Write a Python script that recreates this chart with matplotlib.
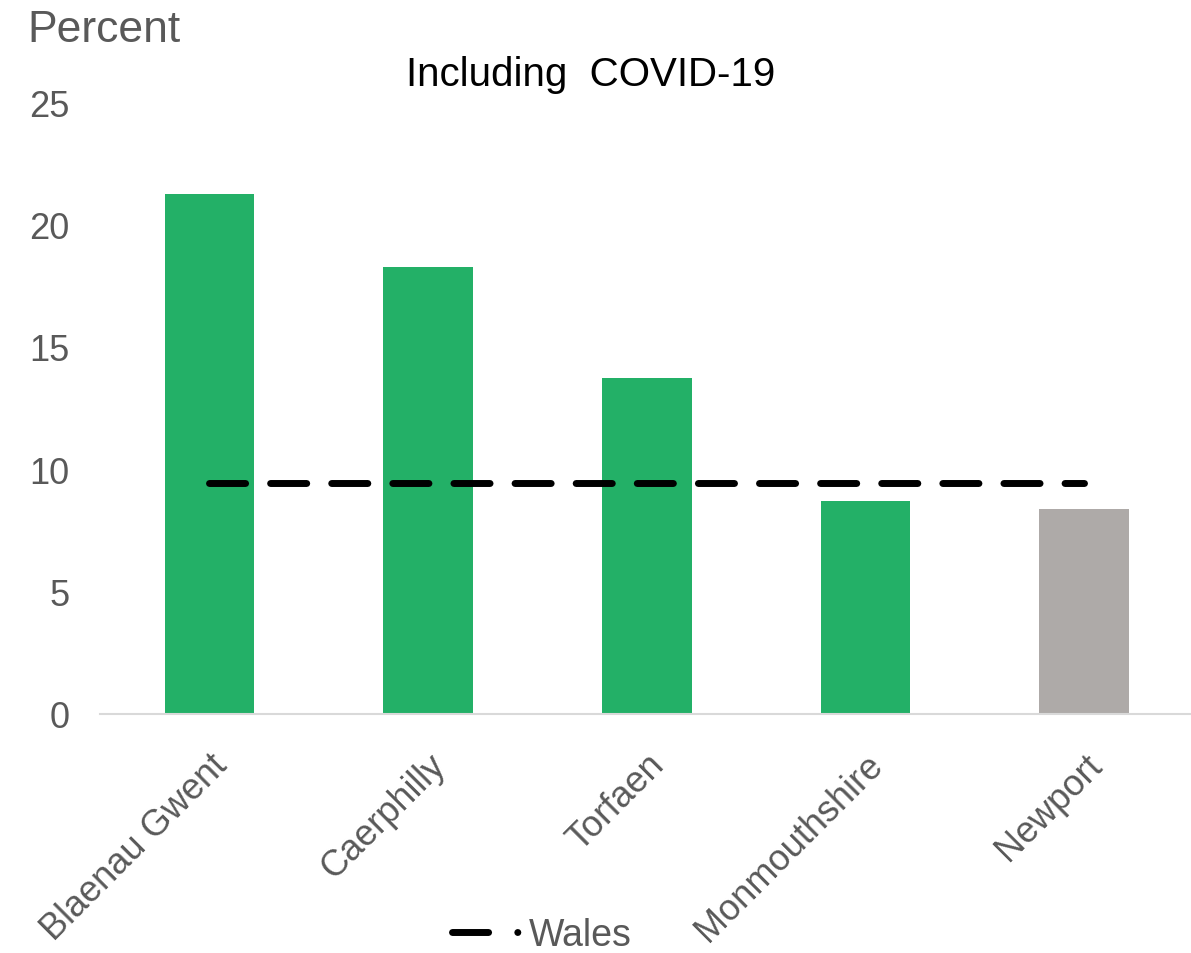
import matplotlib
matplotlib.use("Agg")
import matplotlib.pyplot as plt
from matplotlib.lines import Line2D

categories = ["Blaenau Gwent", "Caerphilly", "Torfaen", "Monmouthshire", "Newport"]
values = [21.25, 18.26, 13.72, 8.70, 8.37]
bar_colors = ["#23b067", "#23b067", "#23b067", "#23b067", "#aeaaa8"]
wales_value = 9.42
y_ticks = [0, 5, 10, 15, 20, 25]

plt.rcParams['font.family'] = ['Liberation Sans', 'DejaVu Sans']
grey = "#595959"

fig = plt.figure(figsize=(11.91, 9.54), dpi=100)
ax = fig.add_axes([0.084, 0.2508, 0.918, 0.641])

x = list(range(len(categories)))
ax.bar(x, values, width=0.41, color=bar_colors, zorder=2)
ax.plot([x[0], x[-1]], [wales_value, wales_value], color="black", lw=5,
        dashes=(5.2, 3.6), dash_capstyle="round", solid_capstyle="round", zorder=3)

ax.set_xlim(-0.5, len(categories) - 0.5)
ax.set_ylim(0, 25)
ax.set_yticks(y_ticks)
ax.set_yticklabels([str(t) for t in y_ticks], fontsize=26, color=grey)
ax.set_xticks(x)
ax.set_xticklabels(categories, rotation=45, ha="right", va="top",
                   rotation_mode="anchor", fontsize=26, color=grey)
ax.tick_params(axis="both", length=0)
ax.tick_params(axis="y", pad=22)
ax.tick_params(axis="x", pad=24)
for s in ["top", "right", "left"]:
    ax.spines[s].set_visible(False)
ax.spines["bottom"].set_color("#d9d9d9")
ax.spines["bottom"].set_linewidth(1.5)

fig.text(0.023, 0.968, "Percent", fontsize=32, color=grey, ha="left", va="center")
fig.text(0.496, 0.921, "Including  COVID-19", fontsize=29, color="black",
         ha="center", va="center")

handle = Line2D([0], [0], color="black", lw=5, dashes=(5.2, 4.2, 0.01, 10),
                dash_capstyle="round")
fig.legend([handle], ["Wales"], loc="center", bbox_to_anchor=(0.455, 0.019),
           frameon=False, fontsize=27, labelcolor=grey, handlelength=1.85,
           handletextpad=0.2, borderpad=0, borderaxespad=0)

fig.savefig("out.png", dpi=100)
